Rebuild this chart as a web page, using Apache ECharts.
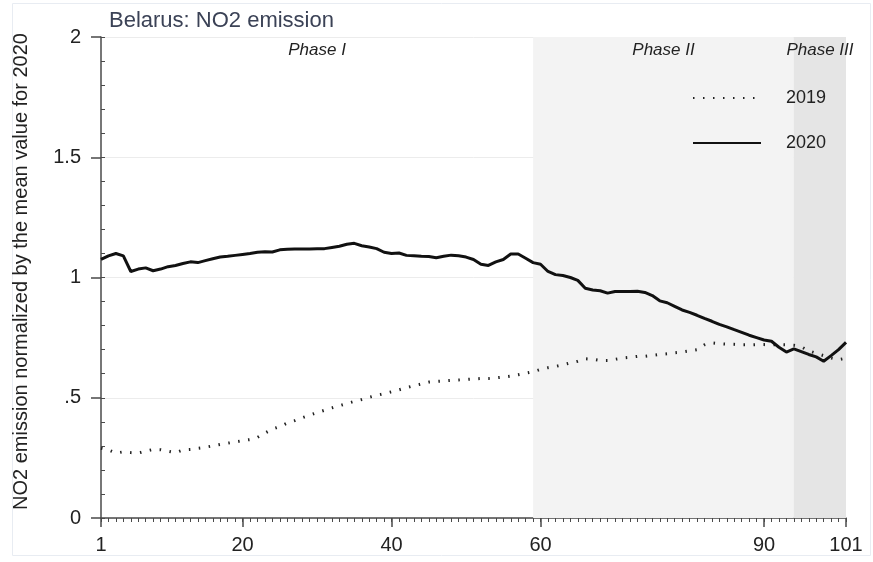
<!DOCTYPE html>
<html>
<head>
<meta charset="utf-8">
<script src="https://cdn.jsdelivr.net/npm/echarts@6/dist/echarts.min.js"></script>
<style>html,body{margin:0;padding:0;background:#fff;}#c{width:873px;height:562px;}</style>
</head>
<body>
<div id="c"></div>
<script>
const titleText = 'Belarus: NO2 emission';
const yName = 'NO2 emission normalized by the mean value for 2020';
const xTickValues = [1, 20, 40, 60, 90, 101];
const yTickLabels = {0: '0', 0.5: '.5', 1: '1', 1.5: '1.5', 2: '2'};
const phases = [
  {name: 'Phase I', from: 1, to: 59},
  {name: 'Phase II', from: 59, to: 94},
  {name: 'Phase III', from: 94, to: 101}
];
const seriesNames = ['2019', '2020'];
const values2019 = [
  0.29, 0.283, 0.27, 0.275, 0.272, 0.27, 0.278, 0.285, 0.284, 0.278,
  0.272, 0.283, 0.285, 0.29, 0.294, 0.30, 0.306, 0.311, 0.316, 0.322,
  0.326, 0.335, 0.353, 0.37, 0.38, 0.395, 0.405, 0.417, 0.428, 0.438,
  0.448, 0.458, 0.467, 0.476, 0.485, 0.493, 0.502, 0.51, 0.517, 0.525,
  0.533, 0.542, 0.55, 0.557, 0.565, 0.568, 0.57, 0.572, 0.574, 0.576,
  0.578, 0.58, 0.58, 0.583, 0.586, 0.59, 0.596, 0.602, 0.608, 0.618,
  0.625, 0.63, 0.637, 0.645, 0.652, 0.662, 0.66, 0.655, 0.655, 0.66,
  0.665, 0.668, 0.672, 0.672, 0.676, 0.68, 0.683, 0.687, 0.69, 0.695,
  0.70, 0.72, 0.728, 0.725, 0.723, 0.722, 0.72, 0.72, 0.721, 0.721,
  0.72, 0.721, 0.72, 0.718, 0.712, 0.695, 0.685, 0.675, 0.665, 0.658,
  0.665
];
const values2020 = [
  1.075, 1.09, 1.10, 1.09, 1.025, 1.035, 1.04, 1.028, 1.035, 1.045,
  1.05, 1.058, 1.065, 1.062, 1.07, 1.078, 1.085, 1.088, 1.092, 1.096,
  1.10, 1.105, 1.107, 1.106, 1.115, 1.117, 1.118, 1.118, 1.119, 1.12,
  1.12, 1.125, 1.13, 1.138, 1.142, 1.132, 1.127, 1.12, 1.105, 1.10,
  1.102, 1.092, 1.09, 1.088, 1.087, 1.082, 1.088, 1.093, 1.09, 1.085,
  1.075, 1.055, 1.05, 1.065, 1.075, 1.098, 1.098, 1.08, 1.062, 1.055,
  1.025, 1.012, 1.008, 1.0, 0.988, 0.955, 0.948, 0.945, 0.935, 0.942,
  0.942, 0.942, 0.943, 0.938, 0.925, 0.903, 0.895, 0.88, 0.865, 0.855,
  0.843, 0.83, 0.818, 0.805, 0.795, 0.783, 0.772, 0.76, 0.75, 0.74,
  0.735, 0.71, 0.69, 0.703, 0.692, 0.68, 0.67, 0.652, 0.675, 0.70,
  0.73
];
const days = Array.from({length: values2020.length}, (_, i) => i + 1);

const FONT = 'Liberation Sans, Arial, sans-serif';
const AXIS_COLOR = '#4a4a4a';
const chart = echarts.init(document.getElementById('c'), null, {renderer: 'canvas'});

const phaseColors = ['rgba(0,0,0,0)', '#f3f3f3', '#e5e5e5'];
const markData = phases.map((p, i) => [
  {xAxis: p.from, name: p.name, itemStyle: {color: phaseColors[i]}},
  {xAxis: p.to}
]);

const option = {
  backgroundColor: '#fff',
  animation: false,
  textStyle: {fontFamily: FONT},
  title: {
    text: titleText,
    left: 104, top: 5,
    textStyle: {fontFamily: FONT, fontSize: 22, fontWeight: 'normal', color: '#3b4256'}
  },
  graphic: [{
    type: 'rect', silent: true, z: -10,
    shape: {x: 12.5, y: 3.5, width: 858, height: 552},
    style: {fill: 'none', stroke: '#e8ecf2', lineWidth: 1}
  }],
  legend: {
    orient: 'vertical',
    left: 687, top: 84,
    itemWidth: 68, itemHeight: 18, itemGap: 27,
    data: seriesNames,
    itemStyle: {opacity: 0},
    textStyle: {fontFamily: FONT, fontSize: 18, color: '#222', padding: [0, 0, 0, 20]}
  },
  grid: {left: 101, right: 27, top: 37, bottom: 44, containLabel: false},
  xAxis: [
    {
      type: 'value', min: 1, max: 101, interval: 1,
      axisLine: {show: true, onZero: false, lineStyle: {color: AXIS_COLOR, width: 1.5}},
      axisTick: {show: true, inside: false, length: 4, lineStyle: {color: AXIS_COLOR, width: 1}},
      axisLabel: {show: false},
      splitLine: {show: false}
    },
    {
      type: 'value', min: 1, max: 101, position: 'bottom',
      axisLine: {show: false, onZero: false},
      axisTick: {show: true, customValues: xTickValues, length: 9, lineStyle: {color: AXIS_COLOR, width: 1.5}},
      axisLabel: {show: true, customValues: xTickValues, fontSize: 20, color: '#222', margin: 17, fontFamily: FONT},
      splitLine: {show: false}
    }
  ],
  yAxis: [
    {
      type: 'value', min: 0, max: 2, interval: 0.5,
      name: yName, nameLocation: 'middle', nameGap: 70, nameRotate: 90,
      nameTextStyle: {fontFamily: FONT, fontSize: 20, color: '#222', padding: [0, 0, 0, 12]},
      axisLine: {show: true, onZero: false, lineStyle: {color: AXIS_COLOR, width: 1.5}},
      axisTick: {show: true, length: 10, lineStyle: {color: AXIS_COLOR, width: 1.5}},
      axisLabel: {fontSize: 20, color: '#222', margin: 20, fontFamily: FONT,
        formatter: v => yTickLabels[v] !== undefined ? yTickLabels[v] : ''},
      splitLine: {show: true, lineStyle: {color: '#ececec', width: 1}}
    },
    {
      type: 'value', min: 0, max: 2, interval: 0.1, position: 'left',
      axisLine: {show: false, onZero: false},
      axisTick: {show: true, inside: true, length: 4, lineStyle: {color: AXIS_COLOR, width: 1}},
      axisLabel: {show: false},
      splitLine: {show: false}
    }
  ],
  series: [
    {
      name: seriesNames[0], type: 'line', xAxisIndex: 0, yAxisIndex: 0,
      data: days.map((d, i) => [d, values2019[i]]),
      symbol: 'none', showSymbol: false,
      lineStyle: {color: '#222', width: 3, type: [1.5, 8.5]},
      itemStyle: {color: '#222'},
      z: 3,
      markArea: {
        silent: true,
        label: {show: true, position: 'insideTop', distance: 5, fontFamily: FONT,
          fontSize: 17, fontStyle: 'italic', color: '#222'},
        data: markData
      }
    },
    {
      name: seriesNames[1], type: 'line', xAxisIndex: 0, yAxisIndex: 0,
      data: days.map((d, i) => [d, values2020[i]]),
      symbol: 'none', showSymbol: false,
      lineStyle: {color: '#111', width: 3},
      itemStyle: {color: '#111'},
      z: 4
    }
  ]
};
chart.setOption(option);
</script>
</body>
</html>
